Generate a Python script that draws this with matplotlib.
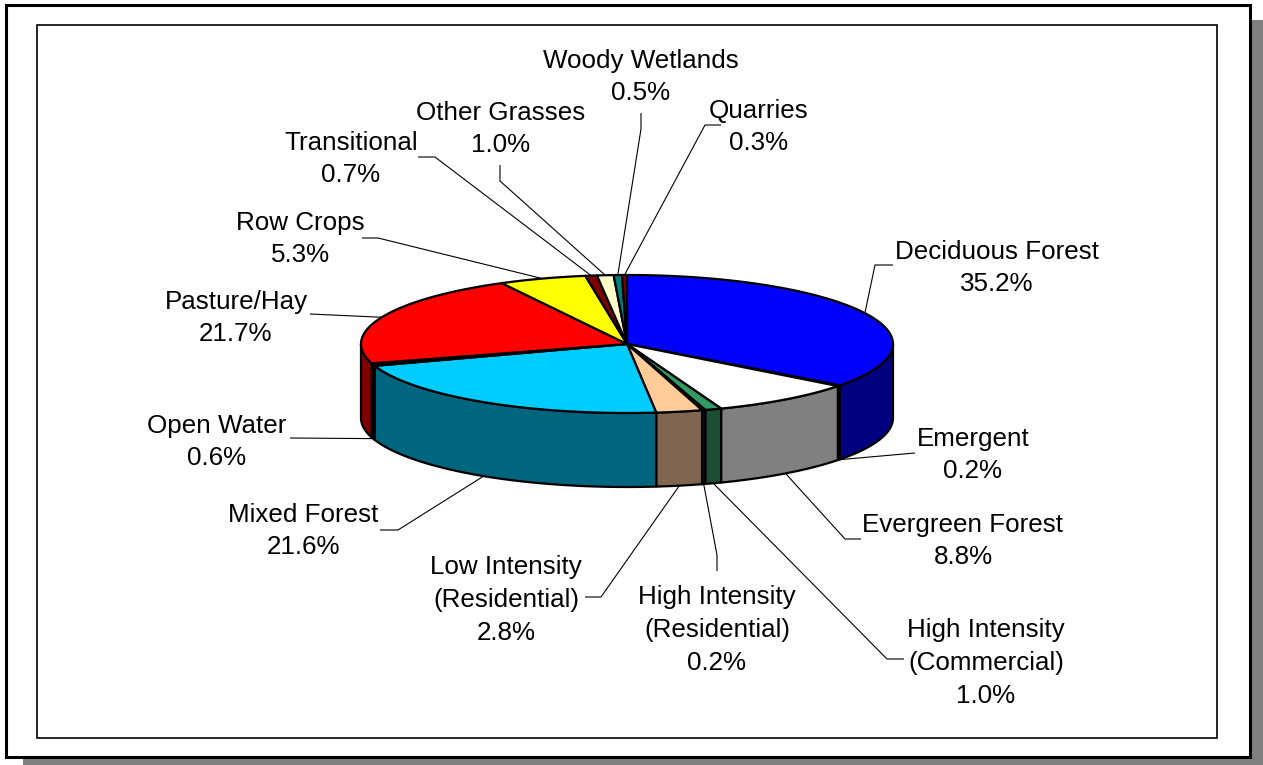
# -*- coding: utf-8 -*-
import numpy as np
import matplotlib
matplotlib.use("Agg")
import matplotlib.pyplot as plt
from matplotlib.patches import Rectangle

plt.rcParams['font.family'] = ['Liberation Sans', 'DejaVu Sans']

# Clockwise from 12 o'clock
names = ["Deciduous Forest", "Emergent", "Evergreen Forest",
         "High Intensity\n(Commercial)", "High Intensity\n(Residential)",
         "Low Intensity\n(Residential)", "Mixed Forest", "Open Water",
         "Pasture/Hay", "Row Crops", "Transitional", "Other Grasses",
         "Woody Wetlands", "Quarries"]
values = [35.2, 0.2, 8.8, 1.0, 0.2, 2.8, 21.6, 0.6, 21.7, 5.3, 0.7, 1.0, 0.5, 0.3]

top_colors = ["#0000FF", "#000000", "#FFFFFF", "#339966", "#660066", "#FFCC99",
              "#00CCFF", "#000000", "#FF0000", "#FFFF00", "#800000", "#FFFFCC",
              "#008080", "#800000"]
side_colors = ["#000080", "#000000", "#808080", "#1A4D33", "#330033", "#806650",
               "#006680", "#000000", "#800000", "#808000", "#400000", "#808066",
               "#004040", "#400000"]

# label centre and leader elbow(s), pixels
label_pos = [(997, 268), (973, 455), (963, 541), (986, 663), (717, 630), (506, 600),
             (303, 531), (217, 442), (236, 318), (300, 239), (351, 159), (501, 129),
             (641, 77), (759, 127)]
elbows = [[(875, 265), (893, 265)], [(915, 453)], [(845, 539), (861, 539)],
          [(887, 659), (904, 659)], [(717, 555), (717, 571)], [(601, 597), (585, 597)],
          [(398, 530), (380, 530)], [(290, 438)], [(310, 314)],
          [(378, 238), (362, 238)], [(435, 157), (418, 157)],
          [(500, 181), (500, 165)], [(641, 129), (641, 113)],
          [(705, 125), (721, 125)]]

CX, CY = 627, 344
RX, RY = 266, 69
DEPTH = 74
LW = 1.6


def ellipse(t):
    return CX + RX * np.sin(t), CY - RY * np.cos(t)


fig = plt.figure(figsize=(12.63, 7.65), dpi=100)
ax = fig.add_axes([0, 0, 1, 1])
ax.set_xlim(0, 1263)
ax.set_ylim(765, 0)
ax.axis("off")

# frame with shadow
ax.add_patch(Rectangle((23, 20), 1240, 745, fc="#808080", ec="none", zorder=0))
ax.add_patch(Rectangle((6, 5), 1244, 752, fc="white", ec="black", lw=2.2, zorder=1))
ax.add_patch(Rectangle((37, 25), 1180, 713, fc="white", ec="black", lw=1.2, zorder=1))

edges = np.cumsum([0] + values) / sum(values) * 2 * np.pi

# side walls (front half only)
for i in range(len(values)):
    a = max(edges[i], np.pi / 2)
    b = min(edges[i + 1], 3 * np.pi / 2)
    if b <= a:
        continue
    t = np.linspace(a, b, 60)
    x, y = ellipse(t)
    ax.fill(np.r_[x, x[::-1]], np.r_[y, y[::-1] + DEPTH], fc=side_colors[i],
            ec="black", lw=LW, joinstyle="round", zorder=2)

# top face
for i in range(len(values)):
    t = np.linspace(edges[i], edges[i + 1], 120)
    x, y = ellipse(t)
    ax.fill(np.r_[CX, x], np.r_[CY, y], fc=top_colors[i], ec="black", lw=LW,
            joinstyle="round", zorder=3)

# labels and leaders
for i in range(len(values)):
    mid = (edges[i] + edges[i + 1]) / 2
    x0, y0 = ellipse(mid)
    if np.pi / 2 < mid < 3 * np.pi / 2:
        y0 += DEPTH
    px = [x0] + [p[0] for p in elbows[i]]
    py = [y0] + [p[1] for p in elbows[i]]
    ax.plot(px, py, color="black", lw=0.8, solid_capstyle="butt", zorder=4)
    ax.text(label_pos[i][0], label_pos[i][1], f"{names[i]}\n{values[i]:.1f}%",
            ha="center", va="center", fontsize=18.7, linespacing=1.45,
            color="black", zorder=5)

fig.savefig("out.png", dpi=100)
